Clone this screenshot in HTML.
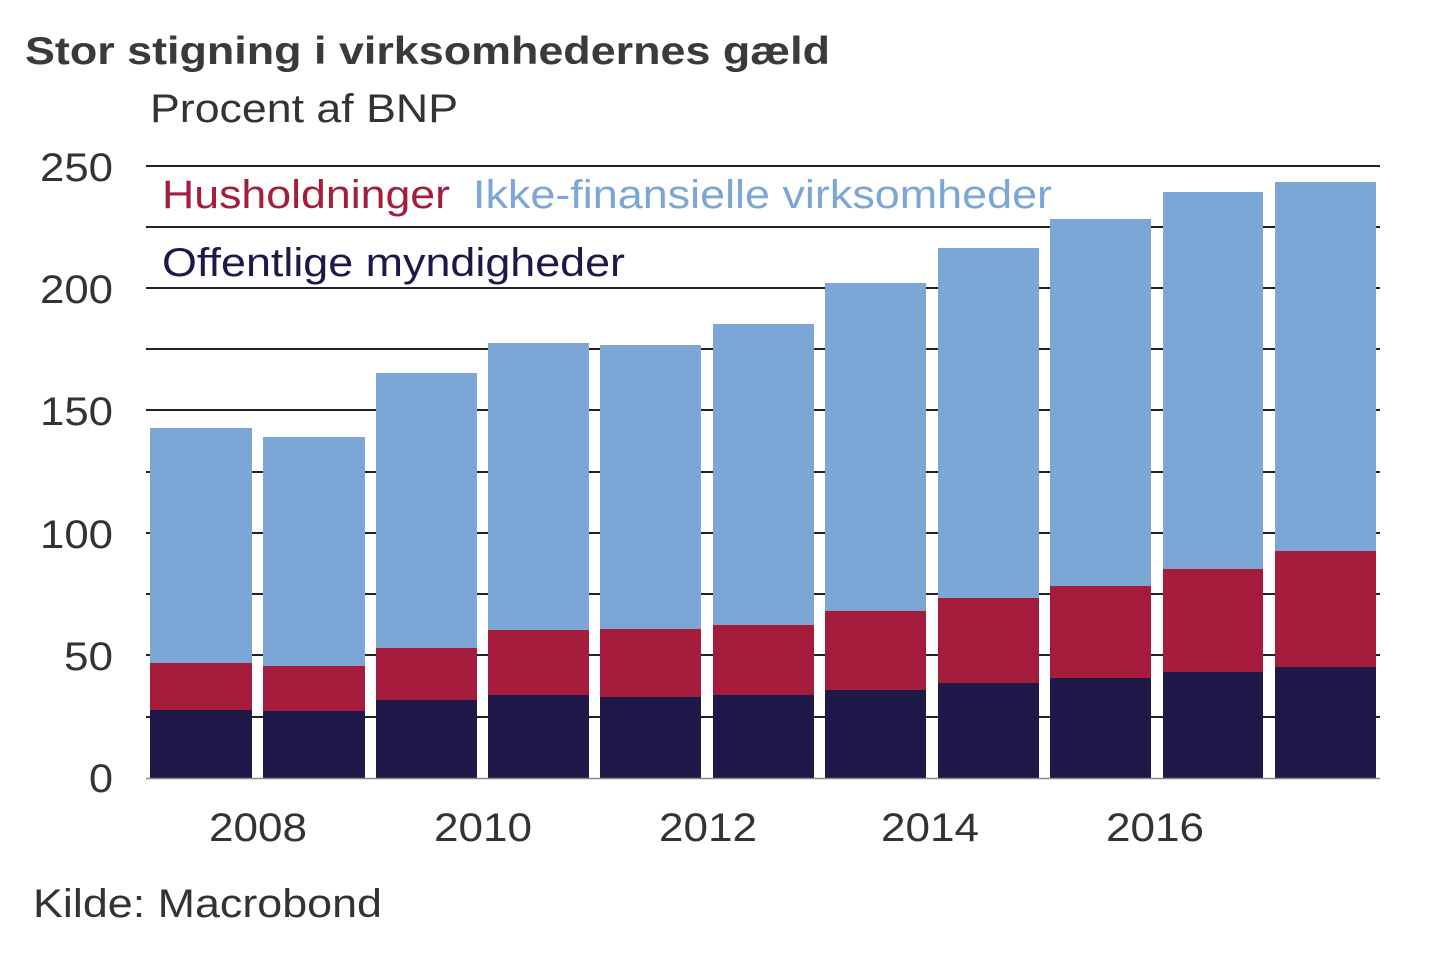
<!DOCTYPE html>
<html><head><meta charset="utf-8"><style>
html,body{margin:0;padding:0;background:#fff;width:1440px;height:960px;overflow:hidden}
svg{display:block}
text{font-family:"Liberation Sans",Arial,sans-serif}
</style></head><body>
<svg width="1440" height="960" viewBox="0 0 1440 960">
<text x="25" y="64" font-size="39" font-weight="bold" fill="#3a3a3a" textLength="805" lengthAdjust="spacingAndGlyphs">Stor stigning i virksomhedernes gæld</text>
<text x="150" y="122" font-size="40" fill="#333" textLength="308" lengthAdjust="spacingAndGlyphs">Procent af BNP</text>
<g stroke="#222" stroke-width="2">
<line x1="146" x2="1380" y1="166" y2="166"/>
<line x1="146" x2="1380" y1="227" y2="227"/>
<line x1="146" x2="1380" y1="288" y2="288"/>
<line x1="146" x2="1380" y1="349" y2="349"/>
<line x1="146" x2="1380" y1="410" y2="410"/>
<line x1="146" x2="1380" y1="472" y2="472"/>
<line x1="146" x2="1380" y1="533" y2="533"/>
<line x1="146" x2="1380" y1="594" y2="594"/>
<line x1="146" x2="1380" y1="655" y2="655"/>
<line x1="146" x2="1380" y1="717" y2="717"/>
</g>
<g font-size="40" fill="#333">
<text x="40" y="181" textLength="73" lengthAdjust="spacingAndGlyphs">250</text>
<text x="40" y="303" textLength="73" lengthAdjust="spacingAndGlyphs">200</text>
<text x="40" y="425" textLength="73" lengthAdjust="spacingAndGlyphs">150</text>
<text x="40" y="548" textLength="73" lengthAdjust="spacingAndGlyphs">100</text>
<text x="64" y="670" textLength="49" lengthAdjust="spacingAndGlyphs">50</text>
<text x="89" y="792" textLength="24" lengthAdjust="spacingAndGlyphs">0</text>
</g>
<g>
<rect x="150" y="428" width="102" height="350" fill="#7ba6d5"/><rect x="150" y="663" width="102" height="115" fill="#a51c3c"/><rect x="150" y="710" width="102" height="68" fill="#1e1848"/>
<rect x="263" y="437" width="102" height="341" fill="#7ba6d5"/><rect x="263" y="666" width="102" height="112" fill="#a51c3c"/><rect x="263" y="711" width="102" height="67" fill="#1e1848"/>
<rect x="376" y="373" width="101" height="405" fill="#7ba6d5"/><rect x="376" y="648" width="101" height="130" fill="#a51c3c"/><rect x="376" y="700" width="101" height="78" fill="#1e1848"/>
<rect x="488" y="343" width="101" height="435" fill="#7ba6d5"/><rect x="488" y="630" width="101" height="148" fill="#a51c3c"/><rect x="488" y="695" width="101" height="83" fill="#1e1848"/>
<rect x="600" y="345" width="101" height="433" fill="#7ba6d5"/><rect x="600" y="629" width="101" height="149" fill="#a51c3c"/><rect x="600" y="697" width="101" height="81" fill="#1e1848"/>
<rect x="713" y="324" width="101" height="454" fill="#7ba6d5"/><rect x="713" y="625" width="101" height="153" fill="#a51c3c"/><rect x="713" y="695" width="101" height="83" fill="#1e1848"/>
<rect x="825" y="283" width="101" height="495" fill="#7ba6d5"/><rect x="825" y="611" width="101" height="167" fill="#a51c3c"/><rect x="825" y="690" width="101" height="88" fill="#1e1848"/>
<rect x="938" y="248" width="101" height="530" fill="#7ba6d5"/><rect x="938" y="598" width="101" height="180" fill="#a51c3c"/><rect x="938" y="683" width="101" height="95" fill="#1e1848"/>
<rect x="1050" y="219" width="101" height="559" fill="#7ba6d5"/><rect x="1050" y="586" width="101" height="192" fill="#a51c3c"/><rect x="1050" y="678" width="101" height="100" fill="#1e1848"/>
<rect x="1163" y="192" width="100" height="586" fill="#7ba6d5"/><rect x="1163" y="569" width="100" height="209" fill="#a51c3c"/><rect x="1163" y="672" width="100" height="106" fill="#1e1848"/>
<rect x="1275" y="182" width="101" height="596" fill="#7ba6d5"/><rect x="1275" y="551" width="101" height="227" fill="#a51c3c"/><rect x="1275" y="667" width="101" height="111" fill="#1e1848"/>
</g>
<line x1="146" x2="1380" y1="778.5" y2="778.5" stroke="#888" stroke-width="1.5"/>
<g font-size="40" fill="#333">
<text x="209" y="841" textLength="98" lengthAdjust="spacingAndGlyphs">2008</text>
<text x="434" y="841" textLength="98" lengthAdjust="spacingAndGlyphs">2010</text>
<text x="659" y="841" textLength="98" lengthAdjust="spacingAndGlyphs">2012</text>
<text x="881" y="841" textLength="98" lengthAdjust="spacingAndGlyphs">2014</text>
<text x="1106" y="841" textLength="98" lengthAdjust="spacingAndGlyphs">2016</text>
</g>
<text x="162" y="208" font-size="40" fill="#a51c3c" textLength="288" lengthAdjust="spacingAndGlyphs">Husholdninger</text>
<text x="473" y="208" font-size="40" fill="#7ba6d5" textLength="579" lengthAdjust="spacingAndGlyphs">Ikke-finansielle virksomheder</text>
<text x="162" y="276" font-size="40" fill="#1e1848" textLength="463" lengthAdjust="spacingAndGlyphs">Offentlige myndigheder</text>
<text x="33" y="917" font-size="40" fill="#333" textLength="349" lengthAdjust="spacingAndGlyphs">Kilde: Macrobond</text>
</svg>
</body></html>
